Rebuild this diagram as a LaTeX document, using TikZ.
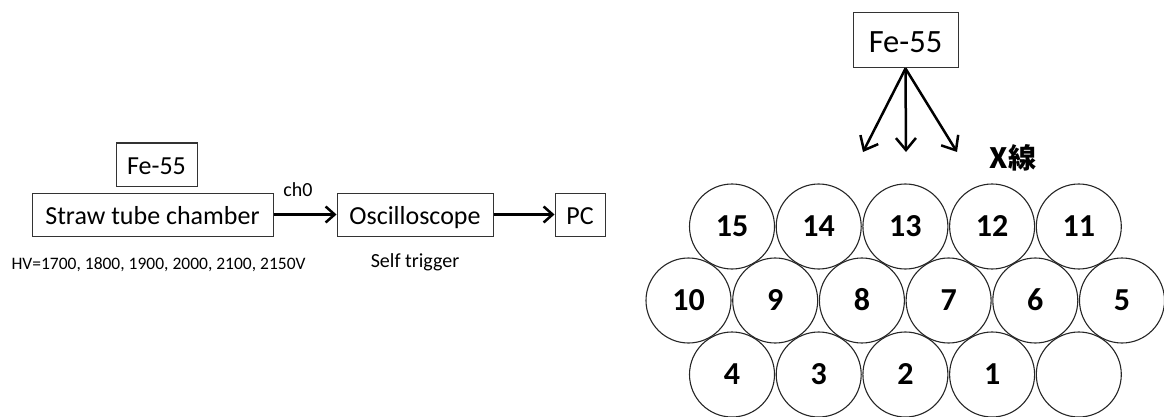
\documentclass[tikz,border=0pt]{standalone}
\usepackage{fontspec}
\setmainfont{Carlito}[Numbers=Lining]
\newfontfamily\jpfont{Noto Sans CJK JP}
\usetikzlibrary{arrows.meta}
\begin{document}
\begin{tikzpicture}[x=1pt,y=-1pt,
  box/.style={draw=black!80, line width=1pt, inner sep=0pt},
  big/.style={font=\fontsize{26}{26}\selectfont, text height=20pt, text depth=0pt},
  tube/.style={circle, draw=black!85, line width=1.1pt, minimum size=85pt, inner sep=0pt,
    font=\fontsize{32}{32}\selectfont\bfseries, text height=20.5pt, text depth=0pt},
  flow/.style={-{Straight Barb[length=9pt,width=16pt]}, line width=2.5pt},
  ray/.style={-{Straight Barb[length=12pt,width=20pt]}, line width=2.5pt}]
\useasboundingbox (0,0) rectangle (1164,417);
% left chain
\node[box, big, minimum width=81pt, minimum height=43pt] (fe1) at (156.5,164.5) {Fe-55};
\node[box, big, minimum width=241pt, minimum height=43pt] (stc) at (152.5,214.5) {Straw tube chamber};
\node[box, big, minimum width=156pt, minimum height=43pt] (osc) at (415,214.5) {Oscilloscope};
\node[box, big, minimum width=50pt, minimum height=43pt] (pc) at (580,214.5) {PC};
\draw[flow] (stc.east) -- (osc.west);
\draw[flow] (osc.east) -- (pc.west);
\node[font=\fontsize{20}{20}\selectfont] (ch0) at (298,190) {ch0};
\node[font=\fontsize{17.5}{17.5}\selectfont] (hv) at (158.5,265) {HV=1700, 1800, 1900, 2000, 2100, 2150V};
\node[font=\fontsize{20}{20}\selectfont] (st) at (415,262) {Self trigger};
% right
\node[box, minimum width=105pt, minimum height=55pt, font=\fontsize{32.5}{32.5}\selectfont,
  text height=25pt, text depth=0pt] (fe2) at (905.5,40.5) {Fe-55};
\coordinate (r1) at (863,152);
\coordinate (r2) at (906,152);
\coordinate (r3) at (957,152);
\draw[ray] (fe2.south) -- (r1);
\draw[ray] (fe2.south) -- (r2);
\draw[ray] (fe2.south) -- (r3);
\node[font=\jpfont\bfseries\fontsize{28}{28}\selectfont] (xray) at (1013,158) {X線};
% tubes
\foreach \n [count=\i from 0] in {15,14,13,12,11}
  \node[tube] (c\n) at (732+86.7*\i,226.5) {\n};
\foreach \n [count=\i from 0] in {10,9,8,7,6,5}
  \node[tube] (c\n) at (688.5+86.7*\i,300.5) {\n};
\foreach \n [count=\i from 0] in {4,3,2,1}
  \node[tube] (c\n) at (732+86.7*\i,374.5) {\n};
\node[tube] (c0) at (732+86.7*4,374.5) {};
\end{tikzpicture}
\end{document}
